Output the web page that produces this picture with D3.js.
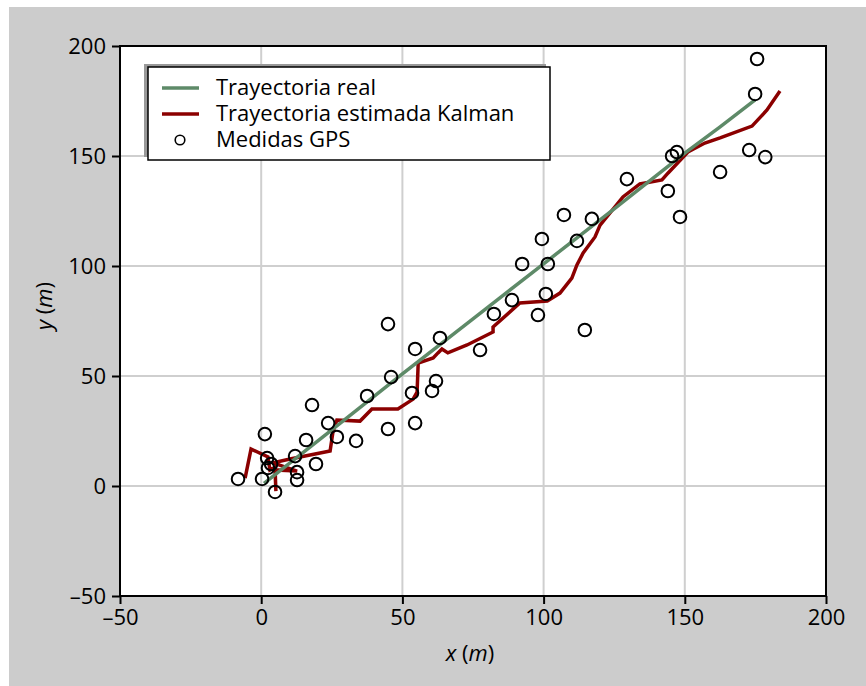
<!DOCTYPE html>
<html>
<head>
<meta charset="utf-8">
<script src="https://cdn.jsdelivr.net/npm/d3@7"></script>
<style>
  html, body { margin: 0; padding: 0; background: #ffffff; }
  svg { display: block; }
  text { font-family: "Open Sans", Lato, "DejaVu Sans", sans-serif; }
</style>
</head>
<body>
<svg id="chart" width="866" height="686"></svg>
<script>
// ---- data ----
const xTicks = [-50, 0, 50, 100, 150, 200];
const yTicks = [-50, 0, 50, 100, 150, 200];
const seriesNames = ["Trayectoria real", "Trayectoria estimada Kalman", "Medidas GPS"];

// true trajectory [x, y]
const realX = [1.0, 25, 50, 75, 100, 125, 150.1, 162.5, 174.9];
const realY = [1.2, 25.5, 51, 76, 101, 126, 151.4, 163.2, 175.5];

// Kalman estimated trajectory [x, y]
const kalmanX = [-5.7, -3.6, 2.4, 3.1, 4.9, 5.2, 4.9, 12.7, 4.2, 10.2, 24.4, 25.4, 26.8, 35.0, 39.2, 48.4, 53.8, 55.2, 55.6, 60.9, 62.6, 64.0, 66.1, 72.9, 82.1, 82.1, 91.6, 101.3, 105.8, 110.0, 111.8, 114.0, 118.2, 120.0, 128.1, 134.1, 141.9, 144.1, 151.1, 157.1, 162.5, 173.8, 179.1, 183.7];
const kalmanY = [3.6, 16.8, 13.2, 7.3, 8.6, -2.3, 7.3, 6.8, 10.5, 12.3, 15.9, 24.5, 30.0, 29.5, 35.0, 35.0, 39.5, 42.7, 55.9, 58.2, 60.5, 62.3, 60.5, 64.1, 70.0, 72.3, 83.2, 84.1, 87.7, 94.5, 100.5, 105.9, 113.2, 118.6, 131.4, 137.3, 139.1, 142.3, 151.8, 155.9, 158.2, 163.6, 170.9, 179.5];

// GPS measurements
const gpsX = [-8.2, 1.3, 2.1, 2.4, 3.5, 0.3, 4.9, 12.7, 12.7, 12.0, 15.9, 18.0, 19.4, 23.7, 26.8, 33.6, 37.5, 44.9, 44.9, 46.0, 53.4, 54.5, 54.5, 60.5, 61.9, 63.3, 77.5, 82.4, 88.8, 92.4, 98.0, 99.4, 100.8, 101.5, 107.2, 111.8, 114.6, 117.1, 129.5, 144.0, 145.5, 147.2, 148.3, 162.5, 172.8, 174.9, 175.6, 178.5];
const gpsY = [3.2, 23.6, 12.7, 8.2, 10.0, 3.2, -2.7, 6.3, 2.7, 13.6, 20.9, 36.8, 10.0, 28.6, 22.3, 20.5, 40.9, 73.6, 25.9, 49.5, 42.3, 62.3, 28.6, 43.2, 47.7, 67.3, 61.8, 78.2, 84.5, 100.9, 77.7, 112.3, 87.3, 100.9, 123.2, 111.4, 70.9, 121.4, 139.5, 134.1, 150.0, 151.8, 122.3, 142.7, 152.7, 178.2, 194.1, 149.5];

// ---- drawing ----
const svg = d3.select("#chart");
const W = 866, H = 686;
const FONT = "'Open Sans', Lato, sans-serif";

svg.append("rect").attr("x", 9).attr("y", 7).attr("width", W - 9).attr("height", H - 7).attr("fill", "#cccccc");

const x = d3.scaleLinear().domain([-50, 200]).range([120, 826]);
const y = d3.scaleLinear().domain([-50, 200]).range([596, 46]);

// plot background
svg.append("rect").attr("x", x(-50)).attr("y", y(200))
  .attr("width", x(200) - x(-50)).attr("height", y(-50) - y(200)).attr("fill", "#ffffff");

// grid
const grid = svg.append("g");
grid.selectAll("line.gx").data(xTicks.filter(t => t > -50 && t < 200)).enter().append("line")
  .attr("x1", d => x(d)).attr("x2", d => x(d)).attr("y1", y(200)).attr("y2", y(-50))
  .attr("stroke", "#cfcfcf").attr("stroke-width", 2);
grid.selectAll("line.gy").data(yTicks.filter(t => t > -50 && t < 200)).enter().append("line")
  .attr("y1", d => y(d)).attr("y2", d => y(d)).attr("x1", x(-50)).attr("x2", x(200))
  .attr("stroke", "#cfcfcf").attr("stroke-width", 2);

// lines
const line = d3.line().x(d => x(d[0])).y(d => y(d[1]));
const realPts = realX.map((v, i) => [v, realY[i]]);
const kalPts = kalmanX.map((v, i) => [v, kalmanY[i]]);

svg.append("path").datum(kalPts).attr("d", line).attr("fill", "none")
  .attr("stroke", "#8b0000").attr("stroke-width", 3.5).attr("stroke-linejoin", "miter");
svg.append("path").datum(realPts).attr("d", line).attr("fill", "none")
  .attr("stroke", "#5e8a68").attr("stroke-width", 3.5);

// GPS markers
svg.append("g").selectAll("circle").data(gpsX.map((v, i) => [v, gpsY[i]])).enter().append("circle")
  .attr("cx", d => x(d[0])).attr("cy", d => y(d[1])).attr("r", 6.3)
  .attr("fill", "none").attr("stroke", "#000").attr("stroke-width", 2);

// frame
svg.append("rect").attr("x", x(-50)).attr("y", y(200))
  .attr("width", x(200) - x(-50)).attr("height", y(-50) - y(200))
  .attr("fill", "none").attr("stroke", "#000").attr("stroke-width", 2);

// axes
const fmt = d => d < 0 ? "\u2013" + Math.abs(d) : String(d);
const xAxis = d3.axisBottom(x).tickValues(xTicks).tickSize(8).tickPadding(5).tickFormat(fmt);
const yAxis = d3.axisLeft(y).tickValues(yTicks).tickSize(8).tickPadding(6).tickFormat(fmt);
const gx = svg.append("g").attr("transform", `translate(0,${y(-50)})`).call(xAxis);
const gy = svg.append("g").attr("transform", `translate(${x(-50)},0)`).call(yAxis);
[gx, gy].forEach(g => {
  g.select(".domain").remove();
  g.selectAll(".tick line").attr("stroke", "#000").attr("stroke-width", 2);
  g.selectAll(".tick text").attr("fill", "#000").style("font-size", "22px")
    .style("font-family", FONT);
});

// axis titles
const xt = svg.append("text").attr("x", 470).attr("y", 661).attr("text-anchor", "middle")
  .style("font-size", "22px");
xt.append("tspan").attr("font-style", "italic").text("x");
xt.append("tspan").text(" (");
xt.append("tspan").attr("font-style", "italic").text("m");
xt.append("tspan").text(")");

const yt = svg.append("text").attr("transform", "translate(52,306) rotate(-90)")
  .attr("text-anchor", "middle").style("font-size", "22px");
yt.append("tspan").attr("font-style", "italic").text("y");
yt.append("tspan").text(" (");
yt.append("tspan").attr("font-style", "italic").text("m");
yt.append("tspan").text(")");

// legend
const lg = svg.append("g");
lg.append("rect").attr("x", 144).attr("y", 64).attr("width", 402).attr("height", 93).attr("fill", "#999999");
lg.append("rect").attr("x", 148).attr("y", 67).attr("width", 402).attr("height", 93)
  .attr("fill", "#ffffff").attr("stroke", "#000").attr("stroke-width", 1.5);
const rowY = [88, 114, 140];
lg.append("line").attr("x1", 162).attr("x2", 199).attr("y1", rowY[0]).attr("y2", rowY[0])
  .attr("stroke", "#5e8a68").attr("stroke-width", 3.5);
lg.append("line").attr("x1", 162).attr("x2", 199).attr("y1", rowY[1]).attr("y2", rowY[1])
  .attr("stroke", "#8b0000").attr("stroke-width", 3.5);
lg.append("circle").attr("cx", 180).attr("cy", rowY[2]).attr("r", 4.8)
  .attr("fill", "none").attr("stroke", "#000").attr("stroke-width", 1.6);
seriesNames.forEach((n, i) => {
  lg.append("text").attr("x", 216).attr("y", rowY[i] + 7).style("font-size", "22px").attr("fill", "#000").text(n);
});
</script>
</body>
</html>
